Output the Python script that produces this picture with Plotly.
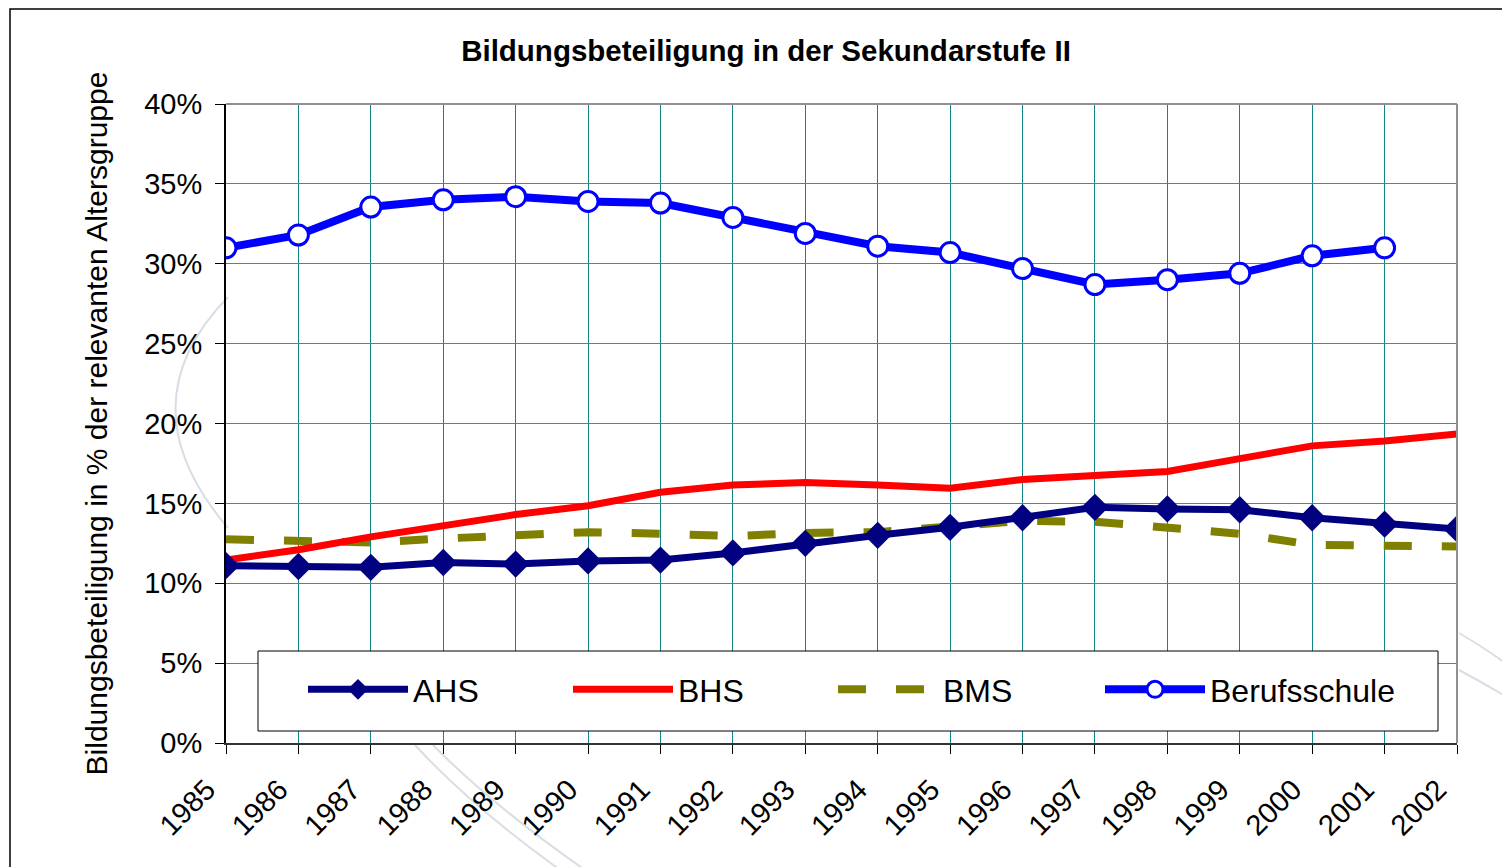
import plotly.graph_objects as go

years = list(range(1985, 2003))
years_beruf = list(range(1985, 2002))

ahs = [11.1, 11.05, 11.0, 11.3, 11.2, 11.4, 11.45, 11.9, 12.5, 13.0, 13.5, 14.1, 14.75, 14.65, 14.6, 14.1, 13.7, 13.4]
bhs = [11.45, 12.1, 12.9, 13.6, 14.3, 14.85, 15.7, 16.15, 16.3, 16.15, 15.95, 16.5, 16.8, 17.0, 17.8, 18.6, 18.9, 19.35]
bms = [12.75, 12.65, 12.55, 12.8, 12.95, 13.2, 13.1, 12.95, 13.15, 13.2, 13.55, 13.9, 13.85, 13.5, 13.1, 12.4, 12.4, 12.3]
beruf = [31.0, 31.8, 33.55, 34.0, 34.2, 33.9, 33.8, 32.9, 31.9, 31.1, 30.7, 29.7, 28.7, 29.0, 29.4, 30.5, 31.0]

y_ticks = [0, 5, 10, 15, 20, 25, 30, 35, 40]

FONT = "Liberation Sans, Arial, sans-serif"

fig = go.Figure()

fig.add_trace(go.Scatter(
    x=years, y=bms, name="BMS", mode="lines",
    line=dict(color="#808000", width=8, dash="28px,30px"),
    legend="legend3",
))
fig.add_trace(go.Scatter(
    x=years, y=bhs, name="BHS", mode="lines",
    line=dict(color="#FF0000", width=7),
    legend="legend2",
))
fig.add_trace(go.Scatter(
    x=years, y=ahs, name="AHS", mode="lines+markers",
    line=dict(color="#000080", width=7),
    marker=dict(symbol="diamond", size=21, color="#000080"),
    legend="legend",
))
fig.add_trace(go.Scatter(
    x=years_beruf, y=beruf, name="Berufsschule", mode="lines+markers",
    line=dict(color="#0000FF", width=8),
    marker=dict(symbol="circle", size=20, color="white", line=dict(color="#0000FF", width=3)),
    legend="legend4",
))

# page is offset by the 8px body margin -> figure coords = page coords - 8
OFF = 8
W, H = 1510 - OFF, 867 - OFF
L, R, T, B = 226 - OFF, 1457 - OFF, 104 - OFF, 743 - OFF

def px(xp):
    return (xp - OFF - L) / (R - L)

def py(yp):
    return (B - (yp - OFF)) / (B - T)

def legend_at(xpage):
    return dict(
        orientation="h", x=px(xpage), y=py(662),
        xanchor="left", yanchor="top",
        bgcolor="rgba(0,0,0,0)", borderwidth=0,
        font=dict(size=32, family=FONT, color="black"),
        itemwidth=100, indentation=0,
    )

fig.update_layout(
    width=W, height=H,
    margin=dict(l=L, r=W - R, t=T, b=H - B, autoexpand=False),
    paper_bgcolor="white", plot_bgcolor="white",
    font=dict(family=FONT, color="black", size=29),
    title=dict(text="<b>Bildungsbeteiligung in der Sekundarstufe II</b>",
               x=(766 - OFF) / W, xref="container", xanchor="center",
               y=1 - (51 - OFF) / H, yref="container", yanchor="middle",
               font=dict(size=29.5, family=FONT, color="black")),
    showlegend=True,
    legend=legend_at(303),
    legend2=legend_at(568),
    legend3=legend_at(833),
    legend4=legend_at(1100),
    xaxis=dict(
        range=[1985, 2002], tickmode="array", tickvals=years,
        ticktext=[str(y) for y in years], tickangle=-45,
        showgrid=True, gridcolor="#108585", gridwidth=1,
        showline=True, linecolor="#333333", linewidth=2,
        ticks="outside", ticklen=9, tickcolor="black", tickwidth=1,
        tickfont=dict(size=29, family=FONT), zeroline=False,
        ticklabelstandoff=7, ticklabelshift=-19,
    ),
    yaxis=dict(
        range=[0, 40], tickmode="array", tickvals=y_ticks,
        ticktext=[f"{v}%" for v in y_ticks],
        showgrid=True, gridcolor="#2a9696", gridwidth=1.2,
        showline=True, linecolor="black", linewidth=2,
        ticks="outside", ticklen=9, tickcolor="black", tickwidth=1,
        tickfont=dict(size=29, family=FONT), zeroline=False,
        ticklabelstandoff=7,
        title=dict(text="Bildungsbeteiligung in % der relevanten Altersgruppe",
                   font=dict(size=30, family=FONT), standoff=28),
    ),
)

# faint background swooshes (outside the plot area)
SW = dict(color="rgba(165,170,190,0.4)", width=2)
def pth(points):
    (x0, y0), (cx, cy), (x1, y1) = points
    return f"M{px(x0)},{py(y0)} Q{px(cx)},{py(cy)} {px(x1)},{py(y1)}"
for pts in [
    [(228, 297), (123, 405), (228, 528)],
    [(415, 745), (470, 805), (560, 870)],
    [(433, 745), (492, 805), (585, 870)],
    [(1459, 633), (1485, 648), (1512, 668)],
    [(1459, 670), (1485, 684), (1512, 700)],
]:
    fig.add_shape(type="path", xref="paper", yref="paper", layer="below",
                  path=pth(pts), line=SW)

# legend frame (opaque, covers the grid)
fig.add_shape(type="rect", xref="paper", yref="paper",
              x0=px(258), x1=px(1438), y0=py(731), y1=py(651),
              line=dict(color="black", width=1), fillcolor="white", layer="above")
# gray top and right frame of the plot area
fig.add_shape(type="line", xref="paper", yref="paper", x0=0, x1=1, y0=1, y1=1,
              line=dict(color="#909090", width=2))
fig.add_shape(type="line", xref="paper", yref="paper", x0=1, x1=1, y0=0, y1=1,
              line=dict(color="#909090", width=2))
# outer black border of the chart
fig.add_shape(type="rect", xref="paper", yref="paper",
              x0=px(10), x1=px(1540), y0=py(900), y1=py(9),
              line=dict(color="black", width=1.5), layer="below")

fig.write_html("out.html")
